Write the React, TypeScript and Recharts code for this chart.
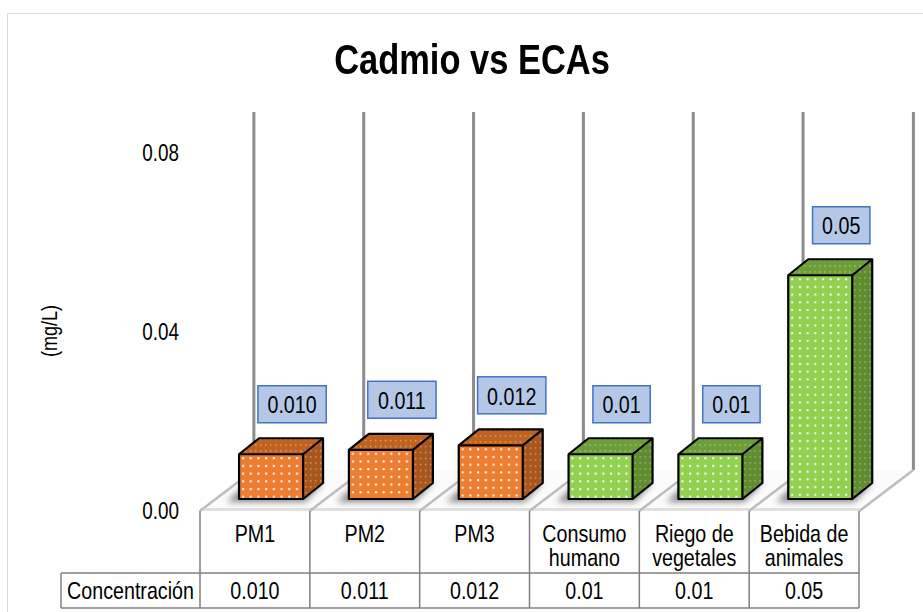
import React from 'react';
import { BarChart, Bar, XAxis, YAxis, LabelList } from 'recharts';

// ---------- data ----------
const categories = ['PM1', 'PM2', 'PM3', 'Consumo humano', 'Riego de vegetales', 'Bebida de animales'];
const concentrations = [0.010, 0.011, 0.012, 0.01, 0.01, 0.05];
const concentrationLabels = ['0.010', '0.011', '0.012', '0.01', '0.01', '0.05'];
const groups = ['PM', 'PM', 'PM', 'ECA', 'ECA', 'ECA'];
const yTicks = [0, 0.04, 0.08];
const rowHeader = 'Concentración';
const title = 'Cadmio vs ECAs';
const yLabel = '(mg/L)';

const data = categories.map((name, i) => ({
  name,
  value: concentrations[i],
  label: concentrationLabels[i],
  group: groups[i],
}));

// ---------- styles ----------
const FONT = "'Liberation Sans',Arial,sans-serif";
const SX = 0.82; // condensed look
const W = 923;
const H = 612;
const GAP = 0.21;
const Y_MAX = 0.08;
const FLOOR_DX = 54;
const FLOOR_DY = 41;
const BAR_OX = 16;
const BAR_OY = 12;
const BAR_DX = 20;
const BAR_DY = 16;
const TABLE_FS = 24;
const LABEL_FS = 24;

const palette: Record<string, { front: string; side: string; top: string }> = {
  PM: { front: '#ED7D31', side: '#A9561C', top: '#C0621F' },
  ECA: { front: '#92D050', side: '#5E8C2F', top: '#6C9E38' },
};

function textWidth(s: string, size: number) {
  let w = 0;
  for (const ch of s) {
    if (ch === '.' || ch === ' ' || ch === 'i' || ch === 'l') w += 0.23;
    else if (ch === 'm' || ch === 'M') w += 0.7;
    else if (/[A-Z]/.test(ch)) w += 0.56;
    else w += 0.456;
  }
  return w * size;
}

function wrap(text: string, maxW: number, size: number) {
  const words = text.split(' ');
  const lines: string[] = [];
  let cur = '';
  for (const w of words) {
    const t = cur ? cur + ' ' + w : w;
    if (cur && textWidth(t, size) > maxW) {
      lines.push(cur);
      cur = w;
    } else cur = t;
  }
  if (cur) lines.push(cur);
  return lines;
}

function NText(props: any) {
  const { x, y, size, anchor = 'middle', weight = 'normal', children, rotate = 0 } = props;
  return (
    <text
      transform={`translate(${x},${y}) rotate(${rotate}) scale(${SX},1)`}
      x={0}
      y={0}
      textAnchor={anchor}
      dominantBaseline="central"
      fontSize={size}
      fontWeight={weight}
      fontFamily={FONT}
      fill="#000"
      stroke="none"
    >
      {children}
    </text>
  );
}

function Bar3D(props: any) {
  const { x, y, width, height, index, payload } = props;
  const value = payload.value;
  const base = y + height;
  const unit = height / value;
  const topY = base - Y_MAX * unit;
  const band = width / (1 - 2 * GAP);
  const cx = x + width / 2;
  const L = cx - band / 2;
  const R = cx + band / 2;
  const c = palette[payload.group];
  const fx = x + BAR_OX;
  const fb = base - BAR_OY;
  const ft = fb - height;
  const fr = fx + width;
  const isLast = index === data.length - 1;
  const backY = base - FLOOR_DY;
  const pts = (a: number[][]) => a.map((p) => p.join(',')).join(' ');
  return (
    <g>
      <defs>
        <pattern id={`dotF${index}`} patternUnits="userSpaceOnUse" width={7.7} height={7.7} x={fx} y={ft}>
          <rect x={3} y={3} width={2} height={2} fill="#ffffff" />
        </pattern>
        <pattern id={`dotS${index}`} patternUnits="userSpaceOnUse" width={5} height={6} x={fr} y={ft}>
          <rect x={2} y={2} width={1.4} height={1.4} fill="#ffffff" opacity={0.45} />
        </pattern>
        <filter id={`blur${index}`} x="-50%" y="-50%" width="200%" height="200%">
          <feGaussianBlur stdDeviation={3} />
        </filter>
      </defs>
      {/* back wall line(s) */}
      <line x1={L + FLOOR_DX} y1={topY - FLOOR_DY} x2={L + FLOOR_DX} y2={backY} stroke="#8C8C8C" strokeWidth={3} />
      {isLast && (
        <line x1={R + FLOOR_DX} y1={topY - FLOOR_DY} x2={R + FLOOR_DX} y2={backY} stroke="#8C8C8C" strokeWidth={3} />
      )}
      {/* floor */}
      <polygon
        points={pts([[L, base], [R, base], [R + FLOOR_DX, backY], [L + FLOOR_DX, backY]])}
        fill="#FBFBFB"
      />
      <line x1={L} y1={base - 1.5} x2={R} y2={base - 1.5} stroke="#E0E0E0" strokeWidth={3} />
      <line x1={L} y1={base} x2={L + FLOOR_DX} y2={backY} stroke="#BDBDBD" strokeWidth={2.5} />
      {isLast && <line x1={R} y1={base} x2={R + FLOOR_DX} y2={backY} stroke="#BDBDBD" strokeWidth={2.5} />}
      {/* shadow */}
      <polygon
        points={pts([[fx - 12, fb + 3], [fr + 2, fb + 3], [fr + BAR_DX, fb - BAR_DY], [fx + BAR_DX - 12, fb - BAR_DY]])}
        fill="#3A3A3A"
        opacity={0.6}
        filter={`url(#blur${index})`}
      />
      {/* bar */}
      <polygon points={pts([[fr, ft], [fr + BAR_DX, ft - BAR_DY], [fr + BAR_DX, fb - BAR_DY], [fr, fb]])} fill={c.side} />
      <polygon points={pts([[fr, ft], [fr + BAR_DX, ft - BAR_DY], [fr + BAR_DX, fb - BAR_DY], [fr, fb]])} fill={`url(#dotS${index})`} />
      <polygon points={pts([[fx, ft], [fx + BAR_DX, ft - BAR_DY], [fr + BAR_DX, ft - BAR_DY], [fr, ft]])} fill={c.top} />
      <polygon points={pts([[fx, ft], [fx + BAR_DX, ft - BAR_DY], [fr + BAR_DX, ft - BAR_DY], [fr, ft]])} fill={`url(#dotS${index})`} />
      <rect x={fx} y={ft} width={width} height={height} fill={c.front} />
      <rect x={fx} y={ft} width={width} height={height} fill={`url(#dotF${index})`} />
      <g fill="none" stroke="#000" strokeWidth={2.2} strokeLinejoin="round">
        <rect x={fx} y={ft} width={width} height={height} />
        <polyline points={pts([[fx, ft], [fx + BAR_DX, ft - BAR_DY], [fr + BAR_DX, ft - BAR_DY], [fr + BAR_DX, fb - BAR_DY], [fr, fb]])} />
        <line x1={fr} y1={ft} x2={fr + BAR_DX} y2={ft - BAR_DY} />
      </g>
    </g>
  );
}

function DataLabel(props: any) {
  const vb = props.viewBox || props;
  const { x, y, width } = vb;
  const value = String(props.value);
  const cx = x + width / 2 + BAR_OX + 21;
  const cy = y - BAR_OY - 50;
  const tw = textWidth(value, LABEL_FS);
  const bw = tw + 19;
  const bh = 37;
  return (
    <g>
      <rect x={cx - bw / 2} y={cy - bh / 2} width={bw} height={bh} fill="#B4C7E7" stroke="#4472C4" strokeWidth={1.5} />
      <NText x={cx} y={cy + 1} size={LABEL_FS}>
        {value}
      </NText>
    </g>
  );
}

function TableTick(props: any) {
  const { x, y, payload, index, visibleTicksCount, width } = props;
  const n = visibleTicksCount || categories.length;
  const colW = width && width > 300 ? width / n : 110;
  const L = x - colW / 2;
  const R = x + colW / 2;
  const r1 = 62;
  const r2 = 97;
  const lines = wrap(String(payload.value), colW - 8, TABLE_FS);
  const isLast = index === n - 1;
  const bc = '#7F7F7F';
  const headerL = L - 139;
  return (
    <g>
      <line x1={L} y1={y} x2={L} y2={y + r2} stroke={bc} strokeWidth={1.5} />
      {isLast && <line x1={R} y1={y} x2={R} y2={y + r2} stroke={bc} strokeWidth={1.5} />}
      <line x1={index === 0 ? headerL : L} y1={y + r1} x2={R} y2={y + r1} stroke={bc} strokeWidth={1.5} />
      <line x1={index === 0 ? headerL : L} y1={y + r2} x2={R} y2={y + r2} stroke={bc} strokeWidth={1.5} />
      {lines.map((ln, i) => (
        <NText key={i} x={x} y={y + 23 + i * 24} size={TABLE_FS}>
          {ln}
        </NText>
      ))}
      <NText x={x} y={y + 80} size={TABLE_FS}>
        {concentrationLabels[index]}
      </NText>
      {index === 0 && (
        <g>
          <line x1={headerL} y1={y + r1} x2={headerL} y2={y + r2} stroke={bc} strokeWidth={1.5} />
          <NText x={(headerL + L) / 2} y={y + 80} size={TABLE_FS}>
            {rowHeader}
          </NText>
        </g>
      )}
    </g>
  );
}

function YTick(props: any) {
  const { x, y, payload } = props;
  return (
    <NText x={x} y={y} size={23} anchor="end">
      {Number(payload.value).toFixed(2)}
    </NText>
  );
}

function YLabel(props: any) {
  const vb = props.viewBox;
  const cx = vb.x + 49;
  const cy = vb.y + vb.height / 2 - 1;
  return (
    <text
      transform={`translate(${cx},${cy}) rotate(-90) scale(${SX},1)`}
      textAnchor="middle"
      dominantBaseline="central"
      fontSize={22}
      fontFamily={FONT}
      fill="#000"
    >
      {yLabel}
    </text>
  );
}

export default function App() {
  return (
    <div style={{ position: 'absolute', left: 0, top: 0, width: W, height: H, overflow: 'hidden', background: '#fff' }}>
      <div
        style={{
          position: 'absolute',
          left: 7,
          top: 13,
          width: 940,
          height: 640,
          border: '1.5px solid #D9D9D9',
          boxSizing: 'border-box',
        }}
      />
      <div
        style={{
          position: 'absolute',
          left: 0,
          top: 36,
          width: 944,
          textAlign: 'center',
          fontFamily: FONT,
          fontWeight: 'bold',
          fontSize: 42,
          lineHeight: '48px',
          color: '#000',
          transform: `scaleX(${SX})`,
          transformOrigin: '472px 50%',
        }}
      >
        {title}
      </div>
      <div style={{ position: 'absolute', left: 0, top: 0 }}>
        <BarChart
          width={W}
          height={H}
          data={data}
          margin={{ top: 153, right: 64, bottom: 0, left: 0 }}
          barCategoryGap={`${GAP * 100}%`}
        >
          <XAxis
            dataKey="name"
            type="category"
            interval={0}
            height={101}
            tickLine={false}
            axisLine={false}
            tickSize={0}
            tickMargin={0}
            tick={<TableTick />}
          />
          <YAxis
            domain={[0, Y_MAX]}
            ticks={yTicks}
            width={200}
            axisLine={false}
            tickLine={false}
            tickSize={0}
            tickMargin={21}
            tick={<YTick />}
            label={{ content: YLabel }}
          />
          <Bar dataKey="value" shape={<Bar3D />} isAnimationActive={false}>
            <LabelList dataKey="label" content={DataLabel} />
          </Bar>
        </BarChart>
      </div>
    </div>
  );
}
